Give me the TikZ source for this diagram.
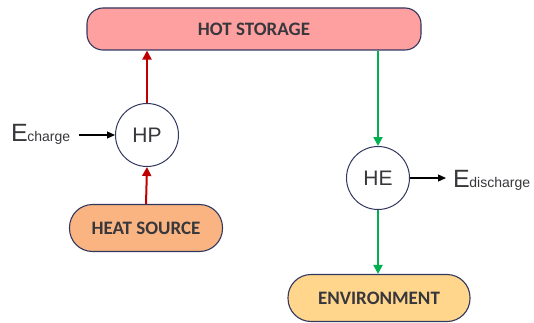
\documentclass[tikz,border=0pt]{standalone}
\usepackage{fontspec}
\setmainfont{Liberation Sans}
\newfontfamily\boxfont{Carlito}
\usetikzlibrary{arrows.meta}
\definecolor{edgeblue}{RGB}{50,55,95}
\definecolor{hotfill}{RGB}{255,160,160}
\definecolor{srcfill}{RGB}{250,180,130}
\definecolor{envfill}{RGB}{255,214,140}
\definecolor{redarr}{RGB}{192,0,0}
\definecolor{greenarr}{RGB}{0,176,80}
\definecolor{txt}{RGB}{55,55,60}
\tikzset{
  pill/.style={draw=edgeblue, line width=1.1pt, rounded corners=16pt, font=\boxfont\bfseries\fontsize{19}{21}\selectfont, text=txt, inner sep=0pt},
  machine/.style={circle, draw=edgeblue, line width=1pt, fill=white, minimum size=63pt, inner sep=0pt, font=\fontsize{21}{23}\selectfont, text=txt},
  redflow/.style={draw=redarr, line width=2pt, -{Triangle[length=9pt,width=9pt]}},
  greenflow/.style={draw=greenarr, line width=2pt, -{Triangle[length=9pt,width=9pt]}},
  energy/.style={draw=black, line width=1.2pt, -{Triangle[length=8pt,width=7pt]}},
  elabel/.style={inner sep=0pt, text=txt}
}
\begin{document}
\begin{tikzpicture}[x=1pt,y=-1pt]
\useasboundingbox (0,0) rectangle (534,323);
\node[pill, fill=hotfill, minimum width=334pt, minimum height=42pt] (hot) at (254,29) {HOT STORAGE};
\node[pill, fill=srcfill, minimum width=153pt, minimum height=47pt, rounded corners=23pt] (src) at (146,228) {HEAT SOURCE};
\node[pill, fill=envfill, minimum width=182pt, minimum height=47pt, rounded corners=23pt] (env) at (379,298) {ENVIRONMENT};
\node[machine] (hp) at (147,135) {HP};
\node[machine] (he) at (378,178) {HE};
\draw[redflow] (src.north) -- (hp.south);
\draw[redflow] (hp.north) -- (hp.north |- hot.south);
\draw[greenflow] (he.north |- hot.south) -- (he.north);
\draw[greenflow] (he.south) -- (env.north -| he.south);
\node[elabel, anchor=base west] (ech) at (11,142) {\fontsize{25}{27}\selectfont E\kern-0.5pt\fontsize{14}{15}\selectfont charge};
\node[elabel, anchor=base west] (edis) at (453,187) {\fontsize{25}{27}\selectfont E\kern-0.5pt\fontsize{14}{15}\selectfont discharge};
\coordinate (c1) at (79,135);
\draw[energy] (c1) -- (hp.west);
\coordinate (c2) at (446,178);
\draw[energy] (he.east) -- (c2);
\end{tikzpicture}
\end{document}
